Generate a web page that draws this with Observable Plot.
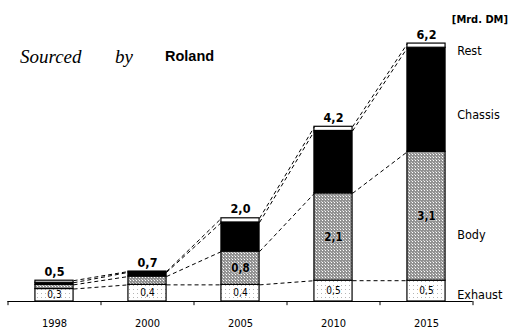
<!DOCTYPE html>
<html>
<head>
<meta charset="utf-8">
<script src="https://cdn.jsdelivr.net/npm/d3@7"></script>
<script src="https://cdn.jsdelivr.net/npm/@observablehq/plot@0.6"></script>
<style>
  html, body { margin: 0; padding: 0; background: #fff; }
  #chart svg { display: block; }
</style>
</head>
<body>
<div id="chart"></div>
<script>
const years   = ["1998", "2000", "2005", "2010", "2015"];
const series  = ["Exhaust", "Body", "Chassis", "Rest"];
const exhaust = [0.3, 0.4, 0.4, 0.5, 0.5];
const body    = [0.1, 0.2, 0.8, 2.1, 3.1];
const chassis = [0.05, 0.1, 0.7, 1.5, 2.5];
const rest    = [0.05, 0.02, 0.1, 0.1, 0.1];
const totals  = [0.5, 0.7, 2.0, 4.2, 6.2];
const exhaustLabels = ["0,3", "0,4", "0,4", "0,5", "0,5"];
const bodyLabels    = ["", "", "0,8", "2,1", "3,1"];
const totalLabels   = ["0,5", "0,7", "2,0", "4,2", "6,2"];
const unit = "[Mrd. DM]";

const values = {Exhaust: exhaust, Body: body, Chassis: chassis, Rest: rest};
const fills = {Exhaust: "url(#pExhaust)", Body: "url(#pBody)", Chassis: "#000", Rest: "#fff"};
const sans = "'Liberation Sans Narrow', 'DejaVu Sans Condensed', 'Liberation Sans', Arial, sans-serif";

// stacked segments
const segs = [];
years.forEach((yr, i) => {
  let c = 0;
  series.forEach(s => {
    const v = values[s][i];
    segs.push({i, series: s, y1: c, y2: c + v, v});
    c += v;
  });
});
const hw = 0.205;
// dashed connectors between the tops of each cumulative level
const links = [];
series.forEach(s => {
  const tops = years.map((_, i) => segs.find(d => d.i === i && d.series === s).y2);
  for (let i = 0; i < years.length - 1; i++) {
    links.push({x1: i + hw, y1: tops[i], x2: i + 1 - hw, y2: tops[i + 1]});
  }
});

const marks = [];
series.forEach(s => {
  marks.push(Plot.rect(segs.filter(d => d.series === s), {
    x1: d => d.i - hw, x2: d => d.i + hw, y1: "y1", y2: "y2",
    fill: fills[s], stroke: "#000", strokeWidth: 1.2
  }));
});
marks.push(
  Plot.link(links, {x1: "x1", y1: "y1", x2: "x2", y2: "y2", stroke: "#000", strokeWidth: 1, strokeDasharray: "4,3"}),
  Plot.ruleY([0], {stroke: "#000", strokeWidth: 1.2}),
  Plot.ruleX([-0.5, 0.5, 1.5, 2.5, 3.5, 4.5], {y1: 0, y2: -0.1, stroke: "#000", strokeWidth: 1}),
  Plot.text(years, {x: (d, i) => i, y: 0, dy: 22, text: d => d, fontSize: 11, fontFamily: sans, fill: "#000"}),
  Plot.text(totals, {x: (d, i) => i, y: d => d, dy: -9, text: (d, i) => totalLabels[i], fontSize: 12.5, fontWeight: "bold", fontFamily: sans, fill: "#000"}),
  Plot.text(segs.filter(d => d.series === "Exhaust"), {x: "i", y: d => (d.y1 + d.y2) / 2, text: d => exhaustLabels[d.i], fontSize: 10, fontFamily: sans, fill: "#000"}),
  Plot.text(segs.filter(d => d.series === "Body"), {x: "i", y: d => (d.y1 + d.y2) / 2, text: d => bodyLabels[d.i], fontSize: 11.5, fontWeight: "bold", fontFamily: sans, fill: "#000", stroke: "#bbb", strokeWidth: 2, paintOrder: "stroke"}),
  // series labels on the right
  Plot.text(["Rest", "Chassis", "Body", "Exhaust"], {x: 4.33, y: [6.03, 4.48, 1.6, 0.16], text: d => d, textAnchor: "start", fontSize: 12.5, fontFamily: sans, fill: "#000"}),
  Plot.text([unit], {frameAnchor: "top-right", dx: 35, dy: -16, text: d => d, textAnchor: "end", fontSize: 11, fontWeight: "bold", fontFamily: sans, fill: "#000"}),
  Plot.text(["Sourced"], {frameAnchor: "top-left", dx: 12, dy: 18, text: d => d, textAnchor: "start", fontSize: 19, fontStyle: "italic", fontFamily: "'Liberation Serif', 'DejaVu Serif', serif", fill: "#000"}),
  Plot.text(["by"], {frameAnchor: "top-left", dx: 107, dy: 18, text: d => d, textAnchor: "start", fontSize: 19, fontStyle: "italic", fontFamily: "'Liberation Serif', 'DejaVu Serif', serif", fill: "#000"}),
  Plot.text(["Roland"], {frameAnchor: "top-left", dx: 157, dy: 20, text: d => d, textAnchor: "start", fontSize: 14.5, fontWeight: "bold", fontFamily: "'Liberation Sans', Arial, sans-serif", fill: "#000"})
);

const chart = Plot.plot({
  width: 511,
  height: 330,
  marginLeft: 7.5,
  marginRight: 38.5,
  marginTop: 30.6,
  marginBottom: 29,
  style: {background: "#fff", overflow: "visible"},
  x: {type: "linear", domain: [-0.5, 4.5], axis: null},
  y: {domain: [0, 6.5], axis: null},
  marks
});

chart.insertAdjacentHTML("afterbegin", `<defs>
  <pattern id="pBody" width="3" height="3" patternUnits="userSpaceOnUse">
    <rect width="3" height="3" fill="#929292"/>
    <rect x="1" y="1" width="1" height="1" fill="#ffffff"/>
    <rect x="0" y="0" width="1" height="1" fill="#d0d0d0"/>
  </pattern>
  <pattern id="pExhaust" width="4" height="4" patternUnits="userSpaceOnUse">
    <rect width="4" height="4" fill="#ffffff"/>
    <rect x="1" y="1" width="1" height="1" fill="#b5b5b5"/>
  </pattern>
</defs>`);

document.getElementById("chart").appendChild(chart);
</script>
</body>
</html>
